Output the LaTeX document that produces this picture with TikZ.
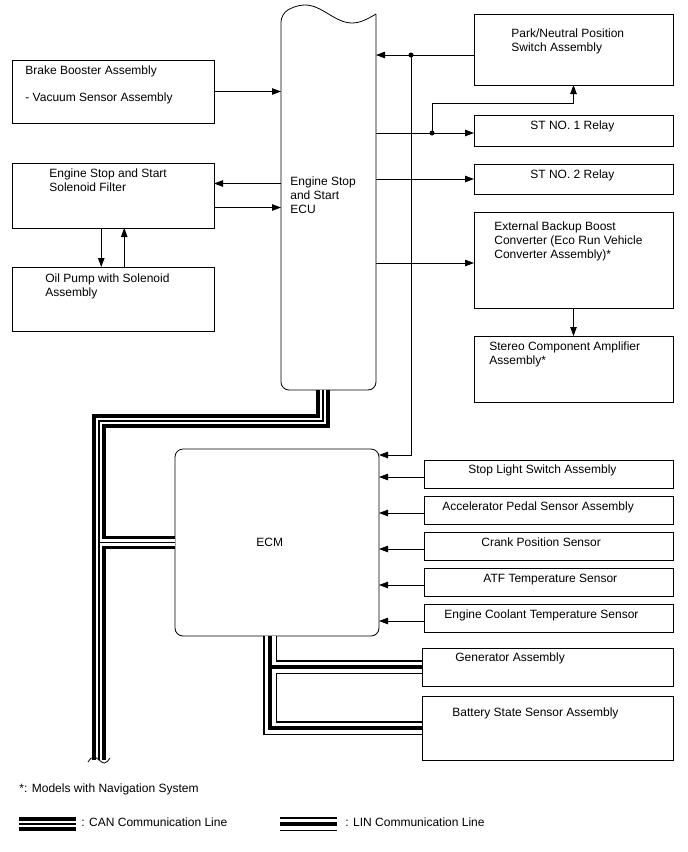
\documentclass[tikz,border=0pt]{standalone}
\usepackage{fontspec}
\setmainfont{Liberation Sans}
\usetikzlibrary{arrows.meta,positioning}

\begin{document}
\begin{tikzpicture}[
  x=1pt, y=-1pt,
  font=\fontsize{12}{14}\selectfont,
  line width=0.8pt,
  box/.style={draw, anchor=north west, inner sep=0pt, outer sep=0pt},
  txt/.style={anchor=north west, align=left, inner sep=0pt},
  arrow/.style={-{Triangle[length=9pt,width=6.5pt]}},
  dot/.style={circle, fill, inner sep=0pt, minimum size=5pt},
  can1/.style={line width=13.6pt},
  can2/.style={line width=6.4pt, white},
  can3/.style={line width=1.4pt},
  lin1/.style={line width=13.2pt},
  lin2/.style={line width=11pt, white},
  lin3/.style={line width=4.2pt}
]
\useasboundingbox (0,0) rectangle (688,852);

% left column
\node[box, minimum width=201.5pt, minimum height=63pt] (brake) at (12.5,60) {};
\node[box, below=40pt of brake, minimum width=201.5pt, minimum height=65pt] (filter) {};
\node[box, below=39pt of filter, minimum width=201.5pt, minimum height=64pt] (oil) {};

% engine stop and start ECU
\node[inner sep=0pt, outer sep=0pt, anchor=north west, minimum width=95pt, minimum height=376pt] (ecu) at (281,14) {};
\draw (ecu.north east) [rounded corners=8pt] -- (ecu.south east) -- (ecu.south west)
  -- (ecu.north west) [sharp corners] sin ++(24,-9) cos ++(23.5,9) sin ++(23.5,9) cos ++(24,-9);

% right column
\node[box, minimum width=199pt, minimum height=71pt] (park) at (474,14) {};
\node[box, below=30pt of park, minimum width=199pt, minimum height=31pt] (st1) {};
\node[box, below=18pt of st1, minimum width=199pt, minimum height=30pt] (st2) {};
\node[box, below=18pt of st2, minimum width=199pt, minimum height=96pt] (ext) {};
\node[box, below=28pt of ext, minimum width=199pt, minimum height=66pt] (stereo) {};

% ECM and its sensors
\node[box, rounded corners=8pt, minimum width=204pt, minimum height=187pt] (ecm) at (175,449) {};
\node[box, minimum width=249pt, minimum height=28pt] (stop) at (424,460) {};
\node[box, below=8pt of stop, minimum width=249pt, minimum height=28pt] (accel) {};
\node[box, below=8pt of accel, minimum width=249pt, minimum height=28pt] (crank) {};
\node[box, below=8pt of crank, minimum width=249pt, minimum height=28pt] (atf) {};
\node[box, below=8pt of atf, minimum width=249pt, minimum height=28pt] (ect) {};
\node[box, minimum width=251pt, minimum height=38pt] (gen) at (422,648) {};
\node[box, below=10pt of gen, minimum width=251pt, minimum height=64pt] (batt) {};

% texts
\node[txt] (braketext) at (25,65.5) {Brake Booster Assembly\\[13pt]- Vacuum Sensor Assembly};
\node[txt] (filtertext) at (49,168) {Engine Stop and Start\\Solenoid Filter};
\node[txt] (oiltext) at (45,273) {Oil Pump with Solenoid\\Assembly};
\node[txt] (ecutext) at (290,176.5) {Engine Stop\\and Start\\ECU};
\node[txt] (parktext) at (511,28.5) {Park/Neutral Position\\Switch Assembly};
\node[txt] (st1text) at (530,120.5) {ST NO. 1 Relay};
\node[txt] (st2text) at (530,169.5) {ST NO. 2 Relay};
\node[txt] (exttext) at (494,221.5) {External Backup Boost\\Converter (Eco Run Vehicle\\Converter Assembly)*};
\node[txt] (stereotext) at (489,341.5) {Stereo Component Amplifier\\Assembly*};
\node[txt] (ecmtext) at (256,537.5) {ECM};
\node[txt] (stoptext) at (468,464.5) {Stop Light Switch Assembly};
\node[txt] (acceltext) at (442,501.5) {Accelerator Pedal Sensor Assembly};
\node[txt] (cranktext) at (481,537.5) {Crank Position Sensor};
\node[txt] (atftext) at (483,573.5) {ATF Temperature Sensor};
\node[txt] (ecttext) at (444,609.5) {Engine Coolant Temperature Sensor};
\node[txt] (gentext) at (455,652.5) {Generator Assembly};
\node[txt] (batttext) at (452,707.5) {Battery State Sensor Assembly};

% signal lines
\draw[arrow] (brake.east) -- (ecu.west |- brake.east);
\draw[arrow] ([yshift=12pt]ecu.west |- filter.east) -- ([yshift=12pt]filter.east);
\draw[arrow] ([yshift=-12pt]filter.east) -- ([yshift=-12pt]ecu.west |- filter.east);
\draw[arrow] ([xshift=-12pt]filter.south) -- ([xshift=-12pt]oil.north);
\draw[arrow] ([xshift=11pt]oil.north) -- ([xshift=11pt]filter.south);

\node[dot] (dotA) at (411,55) {};
\node[dot] (dotB) at (432,133) {};
\draw[arrow] (park.west |- dotA) -- (ecu.east |- dotA);
\draw[arrow] (dotA.center) |- ([yshift=-6pt]ecm.north east);
\draw[arrow] (ecu.east |- dotB) -- (st1.west |- dotB);
\draw[arrow] (dotB.center) -- ++(0,-30) -| (park.south);
\draw[arrow] (ecu.east |- st2.west) -- (st2.west);
\draw[arrow] ([yshift=-3pt]ecu.east |- ext.west) -- ([yshift=-3pt]ext.west);
\draw[arrow] (ext.south) -- (stereo.north);
\foreach \s in {stop,accel,crank,atf,ect} {
  \draw[arrow] ([yshift=-3pt]\s.west) -- ([yshift=-3pt]\s.west -| ecm.east);
}

% CAN bus
\coordinate (canend) at (99,760);
\foreach \s in {can1,can2,can3} {
  \draw[\s] ([xshift=-5.5pt]ecu.south) -- ++(0,31) -| (canend);
  \draw[\s] (canend |- ecm.west) -- (ecm.west);
}
\draw (canend) ++(-11,2) sin ++(5.5,-5) cos ++(5.5,3) sin ++(5.5,3) cos ++(5.5,-5);

% LIN bus
\coordinate (linx) at ([xshift=-7pt]ecm.south);
\foreach \s in {lin1,lin2,lin3} {
  \draw[\s] (linx) |- (batt.west);
  \draw[\s] (linx |- gen.west) -- (gen.west);
}

% legend
\node[txt] (note) at (19,783.5) {*: Models with Navigation System};
\coordinate (canA) at (19,824);
\coordinate (canB) at (76,824);
\coordinate (linA) at (280,824);
\coordinate (linB) at (337,824);
\foreach \s in {can1,can2,can3} \draw[\s] (canA) -- (canB);
\foreach \s in {lin1,lin2,lin3} \draw[\s] (linA) -- (linB);
\node[txt] (cantext) at (81,817.5) {: CAN Communication Line};
\node[txt] (lintext) at (345,817.5) {: LIN Communication Line};

\end{tikzpicture}
\end{document}
